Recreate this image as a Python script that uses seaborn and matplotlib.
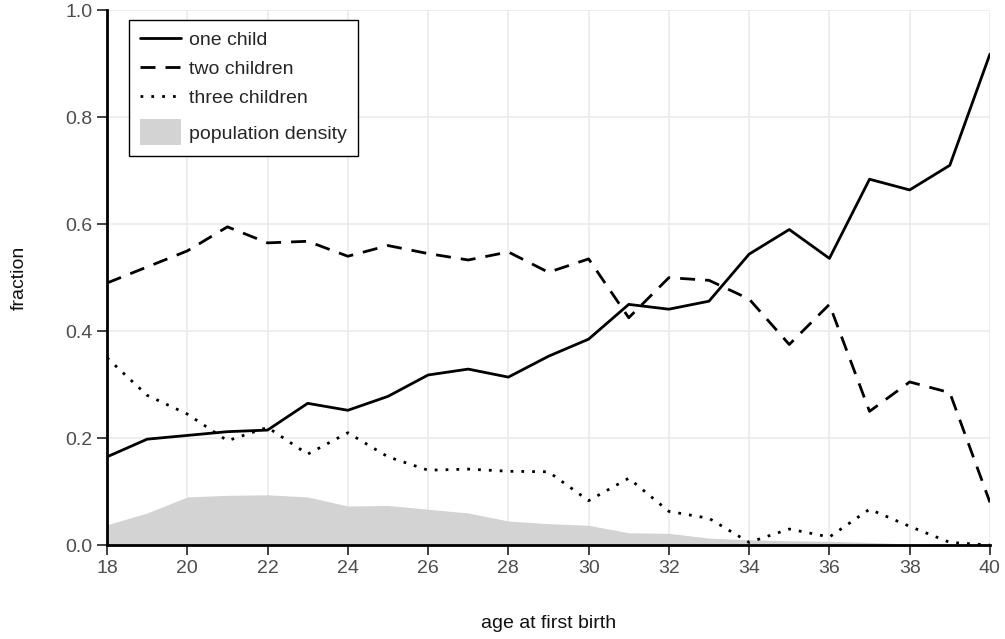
import numpy as np
import pandas as pd
import matplotlib
matplotlib.use("Agg")
import matplotlib.pyplot as plt
import matplotlib.patches as mpatches
from matplotlib.legend_handler import HandlerPatch
import seaborn as sns

ages = list(range(18, 41))
one_child = [0.165, 0.198, 0.205, 0.212, 0.215, 0.265, 0.252, 0.278, 0.318, 0.329, 0.314,
             0.353, 0.385, 0.450, 0.441, 0.456, 0.544, 0.590, 0.536, 0.684, 0.664, 0.710, 0.918]
two_children = [0.490, 0.520, 0.550, 0.595, 0.565, 0.568, 0.540, 0.560, 0.545, 0.533, 0.548,
                0.510, 0.535, 0.425, 0.500, 0.495, 0.460, 0.375, 0.450, 0.250, 0.305, 0.285, 0.080]
three_children = [0.350, 0.280, 0.245, 0.195, 0.220, 0.170, 0.210, 0.165, 0.140, 0.142, 0.138,
                  0.137, 0.083, 0.125, 0.063, 0.050, 0.005, 0.030, 0.015, 0.067, 0.035, 0.005, 0.000]
density = [0.038, 0.060, 0.090, 0.093, 0.094, 0.090, 0.073, 0.074, 0.067, 0.060, 0.045,
           0.040, 0.037, 0.023, 0.022, 0.013, 0.010, 0.008, 0.007, 0.005, 0.002, 0.001, 0.000]

df = pd.DataFrame({"age": ages, "one": one_child, "two": two_children,
                   "three": three_children, "density": density})

sns.set_theme(style="ticks")
plt.rcParams["font.family"] = ["Liberation Sans", "DejaVu Sans"]

fig = plt.figure(figsize=(10.05, 6.39), dpi=100)
ax = fig.add_axes([0.1065, 0.147, 0.8785, 0.837])

shade = "#d3d3d3"
ax.fill_between(df["age"], 0, df["density"], color=shade, lw=0, zorder=1)
lw = 2.0
sns.lineplot(data=df, x="age", y="one", color="black", lw=lw, ax=ax,
             label="one child", zorder=3)
sns.lineplot(data=df, x="age", y="two", color="black", lw=lw, ax=ax,
             label="two children", zorder=3)
ax.lines[-1].set_dashes((5.4, 3.6))
sns.lineplot(data=df, x="age", y="three", color="black", lw=lw, ax=ax,
             label="three children", zorder=3)
ax.lines[-1].set_dashes((1, 2.9))

ax.set_xlim(18, 40)
ax.set_ylim(0, 1.0)
ax.set_xticks(range(18, 41, 2))
ax.set_yticks(np.arange(0, 1.01, 0.2))
ax.set_yticklabels([f"{v:.1f}" for v in np.arange(0, 1.01, 0.2)])
ax.grid(True, color="#ebebeb", lw=1.2)
ax.set_axisbelow(True)

for side in ["top", "right"]:
    ax.spines[side].set_visible(False)
for side in ["left", "bottom"]:
    ax.spines[side].set_color("black")
    ax.spines[side].set_linewidth(2)
ax.tick_params(axis="both", which="both", direction="out", length=7.5, width=1.3,
               color="#333333", labelcolor="#4d4d4d", labelsize=14, pad=3)

ax.set_xlabel("age at first birth", fontsize=14, color="#111111")
ax.set_ylabel("fraction", fontsize=14, color="#111111")
ax.xaxis.set_label_coords(0.5, -0.13)
ax.yaxis.set_label_coords(-0.090, 0.5)


class TallPatchHandler(HandlerPatch):
    # the shaded legend swatch sits in a taller row than the line entries
    def legend_artist(self, legend, orig_handle, fontsize, handlebox):
        extra = 0.64 * fontsize
        handlebox.height += extra
        handlebox.ydescent += extra / 2
        return super().legend_artist(legend, orig_handle, fontsize, handlebox)


handles, labels = ax.get_legend_handles_labels()
handles.append(mpatches.Patch(color=shade, lw=0))
labels.append("population density")
leg = ax.legend(handles, labels,
                loc="upper left", bbox_to_anchor=(0.025, 0.981), fontsize=14,
                frameon=True, fancybox=False, edgecolor="black", framealpha=1,
                borderpad=0.55, handlelength=2.1, handletextpad=0.45, labelspacing=0.6,
                borderaxespad=0,
                handler_map={mpatches.Patch: TallPatchHandler()})
leg.get_frame().set_linewidth(1)
leg.set_zorder(5)

fig.savefig("out.png", dpi=100)
